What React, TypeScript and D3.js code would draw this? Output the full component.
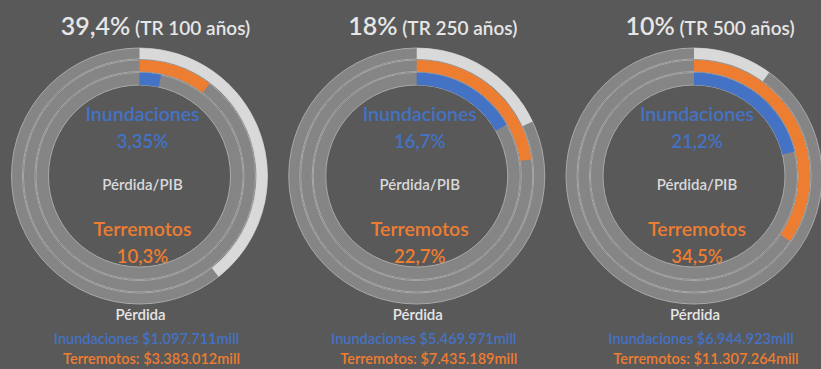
import * as d3 from "d3";

// return-period scenarios
const periods = ["TR 100 años", "TR 250 años", "TR 500 años"];
// probability of exceedance (outer ring)
const probability = [39.4, 18, 10];
// loss / GDP (%)
const floodRatio = [3.35, 16.7, 21.2];
const quakeRatio = [10.3, 22.7, 34.5];
// absolute loss (millions)
const floodLoss = [1097711, 5469971, 6944923];
const quakeLoss = [3383012, 7435189, 11307264];

const W = 821;
const H = 369;
const CY = 176;
const BG = "#595959";
const TRACK = "#858585";
const TRACK_LINE = "#a9a9a9";
const LIGHT = "#d9d9d9";
const ORANGE = "#ed7d31";
const BLUE = "#4472c4";
const FONT = "Lato, 'Open Sans', sans-serif";

const locale = d3.formatLocale({
  decimal: ",",
  thousands: ".",
  grouping: [3],
  currency: ["$", ""],
});
const fmtMoney = locale.format("$,.0f");
const fmtPct = (v: number) => locale.format("~r")(v) + "%";

const x = d3.scalePoint<string>().domain(periods).range([139.5, 694]);
const angle = d3.scaleLinear().domain([0, 100]).range([0, 2 * Math.PI]);

// ring radii: [inner, outer]
const rings = {
  outer: [117, 128],
  middle: [104.5, 116],
  inner: [91, 103.5],
};

const arc = d3.arc<{ r: number[]; v: number }>()
  .innerRadius((d) => d.r[0])
  .outerRadius((d) => d.r[1])
  .startAngle(0)
  .endAngle((d) => angle(d.v));

function Donut({ i }: { i: number }) {
  const cx = x(periods[i]) as number;
  const tx = cx + 3;
  return (
    <g>
      <g transform={`translate(${cx},${CY})`}>
        {Object.values(rings).map((r, k) => (
          <path
            key={"t" + k}
            d={arc({ r, v: 100 }) as string}
            fill={TRACK}
            stroke={TRACK_LINE}
            strokeWidth={1}
          />
        ))}
        <path d={arc({ r: rings.outer, v: probability[i] }) as string} fill={LIGHT} />
        <path d={arc({ r: rings.middle, v: quakeRatio[i] }) as string} fill={ORANGE} />
        <path d={arc({ r: rings.inner, v: floodRatio[i] }) as string} fill={BLUE} />
      </g>
      <text x={cx + 16} y={35} textAnchor="middle" fill="#e6e6e6" fontWeight={600}>
        <tspan fontSize={25}>{fmtPct(probability[i])}</tspan>
        <tspan fontSize={19}>{` (${periods[i]})`}</tspan>
      </text>
      <g fontWeight={600}>
        <text x={tx} y={121} textAnchor="middle" fill={BLUE} fontSize={19.5}>
          Inundaciones
        </text>
        <text x={tx} y={148} textAnchor="middle" fill={BLUE} fontSize={18.5}>
          {fmtPct(floodRatio[i])}
        </text>
        <text x={tx} y={190} textAnchor="middle" fill="#d9d9d9" fontSize={15}>
          Pérdida/PIB
        </text>
        <text x={tx} y={236} textAnchor="middle" fill={ORANGE} fontSize={19.5}>
          Terremotos
        </text>
        <text x={tx} y={263} textAnchor="middle" fill={ORANGE} fontSize={18.5}>
          {fmtPct(quakeRatio[i])}
        </text>
        <text x={cx + 1} y={320} textAnchor="middle" fill="#e6e6e6" fontSize={15}>
          Pérdida
        </text>
        <text x={cx + 7} y={344} textAnchor="middle" fill={BLUE} fontSize={14.5}>
          {`Inundaciones ${fmtMoney(floodLoss[i])}mill`}
        </text>
        <text x={cx + 12} y={364} textAnchor="middle" fill={ORANGE} fontSize={14.5}>
          {`Terremotos: ${fmtMoney(quakeLoss[i])}mill`}
        </text>
      </g>
    </g>
  );
}

export default function App() {
  return (
    <svg
      width={W}
      height={H}
      style={{ position: "absolute", left: 0, top: 0, display: "block" }}
      fontFamily={FONT}
    >
      <rect width={W} height={H} fill={BG} />
      {periods.map((p, i) => (
        <Donut key={p} i={i} />
      ))}
    </svg>
  );
}
